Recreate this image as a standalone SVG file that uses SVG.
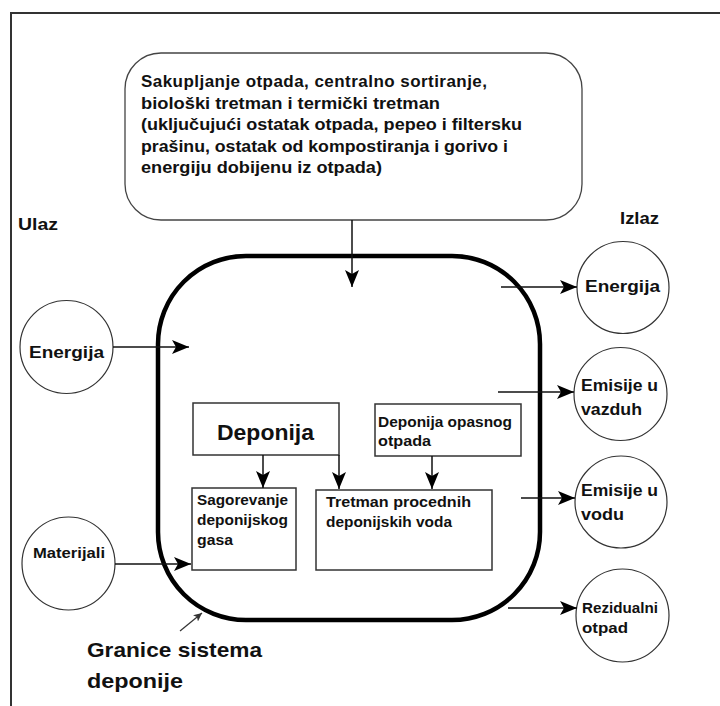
<svg xmlns="http://www.w3.org/2000/svg" width="720" height="706" viewBox="0 0 720 706">
  <defs>
    <marker id="arrow" markerUnits="userSpaceOnUse" markerWidth="18" markerHeight="14" viewBox="0 0 18 14" refX="17" refY="7" orient="auto">
      <path d="M0,0 L17,7 L0,14 L4,7 Z" fill="#000"/>
    </marker>
    <marker id="arrow-small" markerUnits="userSpaceOnUse" markerWidth="9" markerHeight="8" viewBox="0 0 9 8" refX="8.5" refY="4" orient="auto">
      <path d="M0,0 L8.5,4 L0,8 L2,4 Z" fill="#333"/>
    </marker>
    <style>
      .txt { font-family: "Liberation Sans", "DejaVu Sans", sans-serif; font-weight: bold; fill: #111; }
      .circle { fill: #fff; stroke: #333; stroke-width: 1.2; }
      .box { fill: #fff; stroke: #333; stroke-width: 1.5; }
      .link { fill: none; stroke: #111; stroke-width: 1.5; marker-end: url(#arrow); }
    </style>
  </defs>

  <rect width="720" height="706" fill="#fff"/>

  <!-- page frame (left and top edges) -->
  <path d="M11,706 L11,13 L720,13" fill="none" stroke="#333" stroke-width="2"/>

  <!-- column headings -->
  <text class="txt" x="18" y="230" font-size="17" textLength="40" lengthAdjust="spacingAndGlyphs">Ulaz</text>
  <text class="txt" x="620" y="224" font-size="17" textLength="39" lengthAdjust="spacingAndGlyphs">Izlaz</text>

  <!-- system boundary -->
  <g id="system-boundary">
    <rect x="158" y="256" width="382" height="364" rx="88" ry="88" fill="none" stroke="#000" stroke-width="4.5"/>
  </g>

  <!-- upstream processes -->
  <g id="upstream">
    <rect x="125" y="53" width="457" height="167" rx="36" ry="36" fill="#fff" stroke="#444" stroke-width="1.3"/>
    <text class="txt" font-size="17" lengthAdjust="spacingAndGlyphs">
      <tspan x="141" y="87" textLength="346">Sakupljanje otpada, centralno sortiranje,</tspan>
    </text>
    <text class="txt" x="141" y="108.5" font-size="17" textLength="299" lengthAdjust="spacingAndGlyphs">biološki tretman i termički tretman</text>
    <text class="txt" x="141" y="130" font-size="17" textLength="381" lengthAdjust="spacingAndGlyphs">(uključujući ostatak otpada, pepeo i filtersku</text>
    <text class="txt" x="141" y="151.5" font-size="17" textLength="367" lengthAdjust="spacingAndGlyphs">prašinu, ostatak od kompostiranja i gorivo i</text>
    <text class="txt" x="141" y="173" font-size="17" textLength="241" lengthAdjust="spacingAndGlyphs">energiju dobijenu iz otpada)</text>
  </g>

  <!-- inputs -->
  <g id="in-energija">
    <circle class="circle" cx="66.5" cy="347" r="46.5"/>
    <text class="txt" x="29" y="358" font-size="17" textLength="75" lengthAdjust="spacingAndGlyphs">Energija</text>
  </g>
  <g id="in-materijali">
    <circle class="circle" cx="68.5" cy="563.5" r="46.5"/>
    <text class="txt" x="33" y="558" font-size="15" textLength="72" lengthAdjust="spacingAndGlyphs">Materijali</text>
  </g>

  <!-- landfill processes -->
  <g id="deponija">
    <rect class="box" x="193" y="403" width="146" height="52"/>
    <text class="txt" x="217" y="440" font-size="22" textLength="97" lengthAdjust="spacingAndGlyphs">Deponija</text>
  </g>
  <g id="deponija-opasnog">
    <rect class="box" x="375" y="404" width="146" height="52"/>
    <text class="txt" x="378" y="427" font-size="15" textLength="134" lengthAdjust="spacingAndGlyphs">Deponija opasnog</text>
    <text class="txt" x="378" y="446" font-size="15" textLength="53" lengthAdjust="spacingAndGlyphs">otpada</text>
  </g>
  <g id="sagorevanje">
    <rect class="box" x="192" y="488" width="104" height="82"/>
    <text class="txt" x="197" y="505" font-size="15" textLength="91" lengthAdjust="spacingAndGlyphs">Sagorevanje</text>
    <text class="txt" x="197" y="525" font-size="15" textLength="91" lengthAdjust="spacingAndGlyphs">deponijskog</text>
    <text class="txt" x="197" y="545" font-size="15" textLength="36" lengthAdjust="spacingAndGlyphs">gasa</text>
  </g>
  <g id="tretman">
    <rect class="box" x="316" y="490" width="176" height="80"/>
    <text class="txt" x="326" y="507" font-size="15" textLength="145" lengthAdjust="spacingAndGlyphs">Tretman procednih</text>
    <text class="txt" x="326" y="527" font-size="15" textLength="126" lengthAdjust="spacingAndGlyphs">deponijskih voda</text>
  </g>

  <!-- outputs -->
  <g id="out-energija">
    <circle class="circle" cx="623" cy="287.5" r="46"/>
    <text class="txt" x="585" y="292" font-size="17" textLength="75" lengthAdjust="spacingAndGlyphs">Energija</text>
  </g>
  <g id="out-vazduh">
    <circle class="circle" cx="620.5" cy="394" r="46.5" stroke-width="1.6"/>
    <text class="txt" x="581" y="391" font-size="16" textLength="77" lengthAdjust="spacingAndGlyphs">Emisije u</text>
    <text class="txt" x="581" y="415" font-size="16" textLength="61" lengthAdjust="spacingAndGlyphs">vazduh</text>
  </g>
  <g id="out-vodu">
    <circle class="circle" cx="621" cy="502" r="46"/>
    <text class="txt" x="581" y="496" font-size="16" textLength="77" lengthAdjust="spacingAndGlyphs">Emisije u</text>
    <text class="txt" x="581" y="520" font-size="16" textLength="43" lengthAdjust="spacingAndGlyphs">vodu</text>
  </g>
  <g id="out-rezidualni">
    <circle class="circle" cx="622.5" cy="615.5" r="46.5"/>
    <text class="txt" x="582" y="613" font-size="15" textLength="76" lengthAdjust="spacingAndGlyphs">Rezidualni</text>
    <text class="txt" x="582" y="633" font-size="15" textLength="46" lengthAdjust="spacingAndGlyphs">otpad</text>
  </g>

  <!-- boundary caption -->
  <g id="granice">
    <text class="txt" x="87" y="657" font-size="21" textLength="175" lengthAdjust="spacingAndGlyphs">Granice sistema</text>
    <text class="txt" x="87" y="688" font-size="21" textLength="96" lengthAdjust="spacingAndGlyphs">deponije</text>
  </g>

  <!-- connectors -->
  <g id="connectors">
    <line class="link" x1="352" y1="220" x2="352" y2="287"/>
    <line class="link" x1="113" y1="347" x2="189" y2="347"/>
    <line class="link" x1="115" y1="564" x2="191" y2="564"/>
    <line class="link" x1="263" y1="455" x2="263" y2="488"/>
    <line class="link" x1="339" y1="455" x2="339" y2="489"/>
    <line class="link" x1="432" y1="456" x2="432" y2="489"/>
    <line class="link" x1="501" y1="287" x2="577" y2="287"/>
    <line class="link" x1="498" y1="392" x2="574" y2="392"/>
    <line class="link" x1="521" y1="498" x2="575" y2="498"/>
    <line class="link" x1="508" y1="608" x2="577" y2="608"/>
    <line x1="180" y1="631" x2="202" y2="613" stroke="#333" stroke-width="1.2" marker-end="url(#arrow-small)"/>
  </g>
</svg>
